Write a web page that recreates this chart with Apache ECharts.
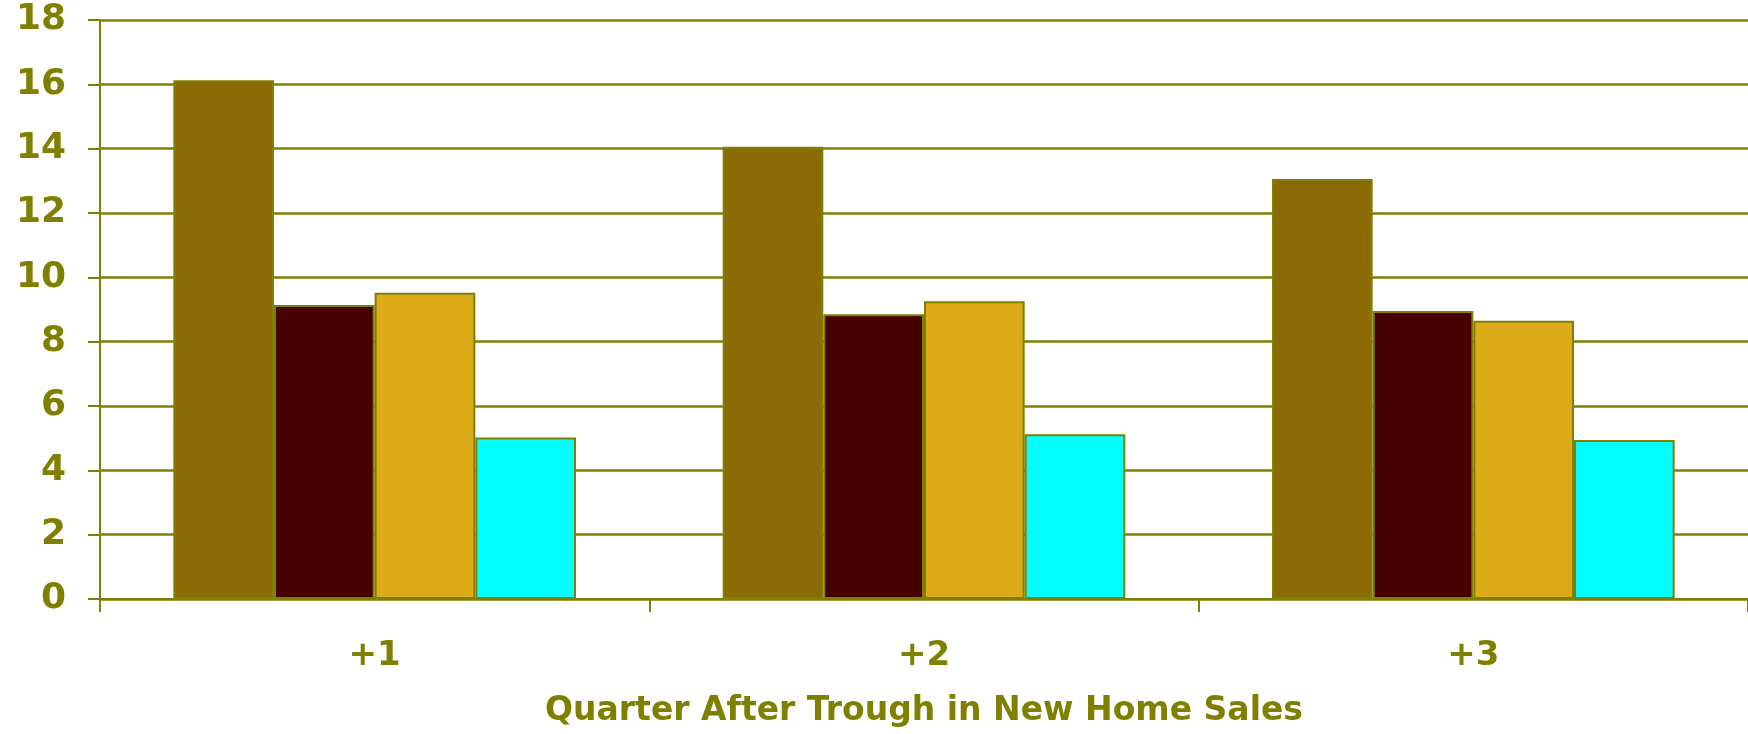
<!DOCTYPE html>
<html>
<head>
<meta charset="utf-8">
<title>Quarter After Trough in New Home Sales</title>
<style>
    html, body { margin: 0; padding: 0; background: #fff; }
    #main { width: 1748px; height: 734px; }
</style>
</head>
<body>
<div id="main"></div>
<script src="https://cdn.jsdelivr.net/npm/echarts@6/dist/echarts.min.js"></script>
<script>
    // data
    var quarters = ['+1', '+2', '+3'];
    var seriesA = [16.13, 14.06, 13.06];
    var seriesB = [9.14, 8.85, 8.95];
    var seriesC = [9.52, 9.26, 8.65];
    var seriesD = [5.02, 5.12, 4.94];
    var yTicks = [0, 2, 4, 6, 8, 10, 12, 14, 16, 18];

    var olive = '#808000';
    var font = 'DejaVu Sans';

    function bar(data, color) {
        return {
            type: 'bar',
            data: data,
            barGap: 0,
            barCategoryGap: '26.7%',
            itemStyle: { color: color, borderColor: olive, borderWidth: 2 },
            emphasis: { disabled: true }
        };
    }

    var myChart = echarts.init(document.getElementById('main'));

    var option = {
        animation: false,
        // right edge sits just past the canvas, like the original's gridlines
        grid: { left: 100, right: -3, top: 20, bottom: 135 },
        xAxis: {
            type: 'category',
            data: quarters,
            name: 'Quarter After Trough in New Home Sales',
            nameLocation: 'middle',
            nameGap: 96,
            nameTextStyle: { color: olive, fontFamily: font, fontWeight: 'bold', fontSize: 33 },
            axisLine: { lineStyle: { color: olive, width: 2 } },
            axisTick: { show: true, interval: 0, alignWithLabel: false, length: 13, lineStyle: { color: olive, width: 2 } },
            axisLabel: { color: olive, fontFamily: font, fontWeight: 'bold', fontSize: 34, margin: 40 }
        },
        yAxis: {
            type: 'value',
            min: yTicks[0],
            max: yTicks[yTicks.length - 1],
            interval: 2,
            axisLine: { show: true, lineStyle: { color: olive, width: 2 } },
            axisTick: { show: true, length: 12, lineStyle: { color: olive, width: 2 } },
            splitLine: { lineStyle: { color: olive, width: 2.5 } },
            axisLabel: { color: olive, fontFamily: font, fontWeight: 'bold', fontSize: 36, margin: 34 }
        },
        series: [
            bar(seriesA, '#8B6B04'),
            bar(seriesB, '#460000'),
            bar(seriesC, '#DDAA18'),
            bar(seriesD, '#00FFFF')
        ]
    };

    myChart.setOption(option);
</script>
</body>
</html>
